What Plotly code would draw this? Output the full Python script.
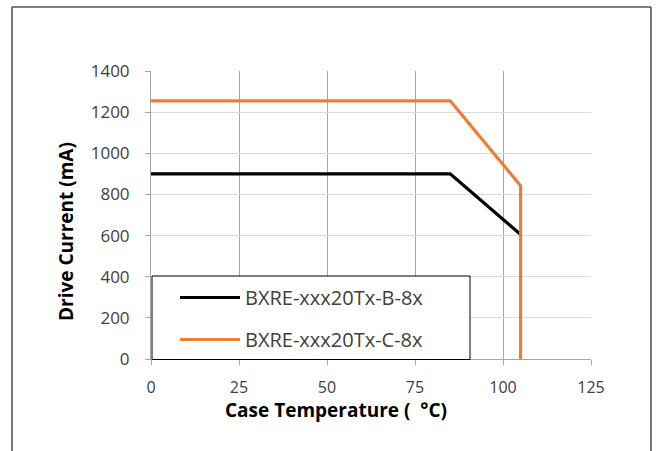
import plotly.graph_objects as go

# Data
series_b_name = "BXRE-xxx20Tx-B-8x"
series_b_temp = [0, 85, 105]
series_b_current = [900, 900, 605]

series_c_name = "BXRE-xxx20Tx-C-8x"
series_c_temp = [0, 85, 105, 105]
series_c_current = [1255, 1255, 842, 0]

x_ticks = [0, 25, 50, 75, 100, 125]
y_ticks = [0, 200, 400, 600, 800, 1000, 1200, 1400]

FONT = "Open Sans"
W, H = 659, 451
# plot area in page pixels: x 151..591, y 71..359
L, T = 151, 71
R = W - 591
B = H - 359
pw = W - L - R
ph = H - T - B

def px(xp):
    return (xp - L) / pw

def py(yp):
    return (H - B - yp) / ph

fig = go.Figure()
fig.add_trace(go.Scatter(x=series_b_temp, y=series_b_current, mode="lines",
                         name=series_b_name, legendgroup="b",
                         line=dict(color="#000000", width=3.2)))
fig.add_trace(go.Scatter(x=series_c_temp, y=series_c_current, mode="lines",
                         name=series_c_name, legendgroup="c",
                         line=dict(color="#ED7D31", width=3.2)))

border = dict(color="#555555", width=1.6)

fig.update_layout(
    width=W, height=H,
    margin=dict(l=L, r=R, t=T, b=B),
    paper_bgcolor="white", plot_bgcolor="white",
    font=dict(family=FONT, color="#404040"),
    showlegend=True,
    legend=dict(x=px(175), y=py(278), xanchor="left", yanchor="top",
                bgcolor="rgba(0,0,0,0)", borderwidth=0,
                font=dict(family=FONT, size=20, color="#404040"),
                tracegroupgap=13, itemwidth=60),
    xaxis=dict(range=[0, 125], tickvals=x_ticks, ticktext=[str(v) for v in x_ticks],
               showgrid=True, gridcolor="#a6a6a6", gridwidth=1,
               showline=True, linecolor="#a6a6a6", linewidth=1,
               ticks="outside", ticklen=5, tickcolor="#a6a6a6",
               ticklabelstandoff=9,
               zeroline=False, tickfont=dict(size=16, color="#404040")),
    yaxis=dict(range=[0, 1400], tickvals=y_ticks, ticktext=[str(v) for v in y_ticks],
               showgrid=True, gridcolor="#d9d9d9", gridwidth=1,
               showline=True, linecolor="#a6a6a6", linewidth=1,
               ticks="outside", ticklen=5, tickcolor="#a6a6a6",
               ticklabelstandoff=12,
               zeroline=False, tickfont=dict(size=17, color="#404040")),
    annotations=[
        dict(text="<b>Case Temperature (  °C)</b>", xref="paper", yref="paper",
             x=px(336), y=py(410), xanchor="center", yanchor="middle",
             showarrow=False, font=dict(family=FONT, size=19, color="#000000")),
        dict(text="<b>Drive Current (mA)</b>", xref="paper", yref="paper",
             x=px(66), y=py(232), xanchor="center", yanchor="middle", textangle=-90,
             showarrow=False, font=dict(family=FONT, size=19, color="#000000")),
    ],
    shapes=[
        dict(type="line", xref="paper", yref="paper",
             x0=px(12), x1=px(651), y0=py(7), y1=py(7), line=border, layer="below"),
        dict(type="line", xref="paper", yref="paper",
             x0=px(12), x1=px(12), y0=py(7), y1=py(451), line=border, layer="below"),
        dict(type="line", xref="paper", yref="paper",
             x0=px(651), x1=px(651), y0=py(7), y1=py(451), line=border, layer="below"),
        dict(type="rect", xref="paper", yref="paper",
             x0=px(152), x1=px(470), y0=py(359.5), y1=py(276),
             line=dict(color="#000000", width=1), fillcolor="white", layer="above"),
    ],
)

fig.write_html("out.html", config={"displayModeBar": False},
               post_script="document.body.style.margin='0';")
